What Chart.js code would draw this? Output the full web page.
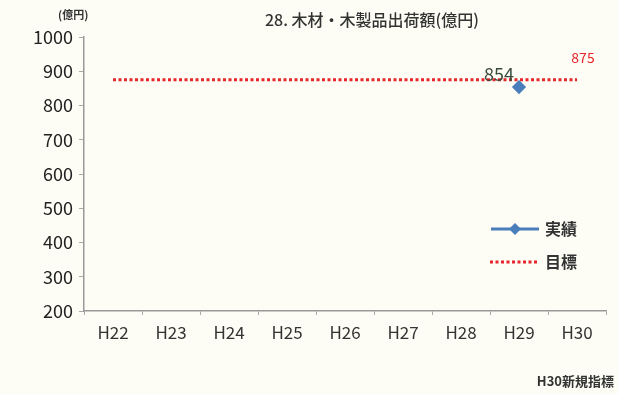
<!DOCTYPE html>
<html>
<head>
<meta charset="utf-8">
<script src="https://cdn.jsdelivr.net/npm/chart.js@4"></script>
<style>
  html, body { margin: 0; padding: 0; background: #fdfdf5; }
  #wrap { width: 618px; height: 394px; position: relative; }
</style>
</head>
<body>
<div id="wrap"><canvas id="mainChart" width="618" height="394"></canvas></div>
<script>
const labels = ['H22', 'H23', 'H24', 'H25', 'H26', 'H27', 'H28', 'H29', 'H30'];
const actual = [null, null, null, null, null, null, null, 854, null];
const target = [875, 875, 875, 875, 875, 875, 875, 875, 875];
const yTicks = [200, 300, 400, 500, 600, 700, 800, 900, 1000];

const FONT = '"Noto Sans CJK JP", "Noto Sans", sans-serif';

// 題名・単位・ラベル・凡例をキャンバスに直接描く
const extras = {
    id: 'extras',
    afterDraw(chart) {
        const c = chart.ctx;
        const x = chart.scales.x, y = chart.scales.y;
        c.save();
        c.textBaseline = 'middle';

        c.fillStyle = '#333';
        c.font = '500 16px ' + FONT;
        c.textAlign = 'center';
        c.fillText('28. 木材・木製品出荷額(億円)', 372, 20);

        c.font = 'bold 11px ' + FONT;
        c.textAlign = 'left';
        c.fillText('(億円)', 58, 15);

        // 実績ラベル
        const i = actual.findIndex(v => v !== null);
        c.font = '18px ' + FONT;
        c.fillStyle = '#3a4a3a';
        c.textAlign = 'center';
        c.fillText(String(actual[i]), x.getPixelForValue(i) - 20, y.getPixelForValue(actual[i]) - 13);

        // 目標ラベル
        const last = target.length - 1;
        c.font = '14px ' + FONT;
        c.fillStyle = '#e8252b';
        c.fillText(String(target[last]), x.getPixelForValue(last) + 6, y.getPixelForValue(target[last]) - 22);

        // 凡例
        c.strokeStyle = '#4a7ebb';
        c.lineWidth = 3;
        c.beginPath(); c.moveTo(491, 229); c.lineTo(539, 229); c.stroke();
        c.fillStyle = '#4a7ebb';
        c.beginPath();
        c.moveTo(515, 223); c.lineTo(521, 229); c.lineTo(515, 235); c.lineTo(509, 229);
        c.closePath(); c.fill();

        c.strokeStyle = '#e8252b';
        c.setLineDash([3, 2.5]);
        c.beginPath(); c.moveTo(490, 262); c.lineTo(539, 262); c.stroke();
        c.setLineDash([]);

        c.fillStyle = '#333';
        c.font = 'bold 16px ' + FONT;
        c.textAlign = 'left';
        c.fillText('実績', 545, 229);
        c.fillText('目標', 545, 262);

        c.font = 'bold 13px ' + FONT;
        c.textAlign = 'right';
        c.fillText('H30新規指標', 614, 381);
        c.restore();
    }
};

new Chart(document.getElementById('mainChart'), {
    type: 'line',
    data: {
        labels: labels,
        datasets: [{
            label: '実績',
            data: actual,
            borderColor: '#4a7ebb',
            backgroundColor: '#4a7ebb',
            borderWidth: 3,
            pointStyle: 'rectRot',
            pointRadius: 5,
            spanGaps: false
        }, {
            label: '目標',
            data: target,
            borderColor: '#e8252b',
            borderWidth: 3,
            borderDash: [3, 2.5],
            pointRadius: 0
        }]
    },
    options: {
        responsive: false,
        animation: false,
        layout: { padding: { top: 37, right: 12, left: 0, bottom: 0 } },
        plugins: {
            legend: { display: false },
            tooltip: { enabled: false }
        },
        scales: {
            x: {
                offset: true,
                grid: { display: true, drawOnChartArea: false, offset: true, tickLength: 4, color: '#aaa' },
                border: { color: '#999', width: 1.5 },
                ticks: { color: '#333', font: { family: FONT, size: 17 }, padding: 7 },
                afterFit: s => { s.height = 83; }
            },
            y: {
                min: 200,
                max: 1000,
                afterBuildTicks: s => { s.ticks = yTicks.map(v => ({ value: v })); },
                grid: { display: true, drawOnChartArea: false, tickLength: 5, color: '#aaa' },
                border: { color: '#999', width: 1.5 },
                ticks: {
                    color: '#222',
                    font: { family: FONT, size: 18 },
                    padding: 6,
                    callback: v => String(v)
                },
                afterFit: s => { s.width = 84; }
            }
        }
    },
    plugins: [extras]
});
</script>
</body>
</html>
